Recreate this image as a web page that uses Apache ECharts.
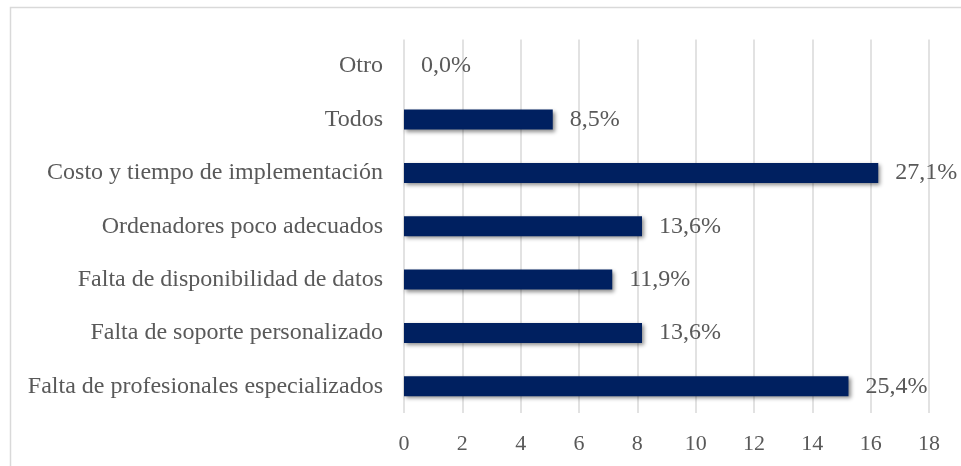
<!DOCTYPE html>
<html>
<head>
<meta charset="utf-8">
<script src="https://cdn.jsdelivr.net/npm/echarts@6/dist/echarts.min.js"></script>
<style>
html,body{margin:0;padding:0;background:#fff;}
#chart{width:961px;height:466px;}
</style>
</head>
<body>
<div id="chart"></div>
<script>
var categories = [
  "Falta de profesionales especializados",
  "Falta de soporte personalizado",
  "Falta de disponibilidad de datos",
  "Ordenadores poco adecuados",
  "Costo y tiempo de implementación",
  "Todos",
  "Otro"
];
var values = [15.24, 8.16, 7.14, 8.16, 16.26, 5.1, 0];
var pctLabels = ["25,4%", "13,6%", "11,9%", "13,6%", "27,1%", "8,5%", "0,0%"];
var xTicks = [0, 2, 4, 6, 8, 10, 12, 14, 16, 18];

var chart = echarts.init(document.getElementById('chart'));
var font = '"Liberation Serif", "Times New Roman", serif';
chart.setOption({
  animation: false,
  backgroundColor: '#ffffff',
  graphic: [{
    type: 'rect',
    shape: {x: 10.5, y: 7.5, width: 980, height: 480},
    style: {fill: 'none', stroke: '#d9d9d9', lineWidth: 1.5},
    silent: true
  }],
  grid: {left: 404, right: 32, top: 39.5, bottom: 53, containLabel: false},
  xAxis: {
    type: 'value',
    min: xTicks[0],
    max: xTicks[xTicks.length - 1],
    interval: 2,
    axisLine: {show: false},
    axisTick: {show: false},
    splitLine: {lineStyle: {color: '#d9d9d9', width: 1.5}},
    axisLabel: {color: '#595959', fontFamily: font, fontSize: 22, margin: 20}
  },
  yAxis: {
    type: 'category',
    data: categories,
    axisLine: {show: false},
    axisTick: {show: false},
    axisLabel: {color: '#595959', fontFamily: font, fontSize: 24, margin: 21}
  },
  series: [{
    type: 'bar',
    data: values,
    barWidth: 20,
    itemStyle: {
      color: '#002060',
      shadowColor: 'rgba(0,0,0,0.45)',
      shadowBlur: 4,
      shadowOffsetX: 2,
      shadowOffsetY: 2
    },
    label: {
      show: true,
      position: 'right',
      distance: 17,
      color: '#595959',
      fontFamily: font,
      fontSize: 24,
      formatter: function (p) { return pctLabels[p.dataIndex]; }
    }
  }]
});
</script>
</body>
</html>
